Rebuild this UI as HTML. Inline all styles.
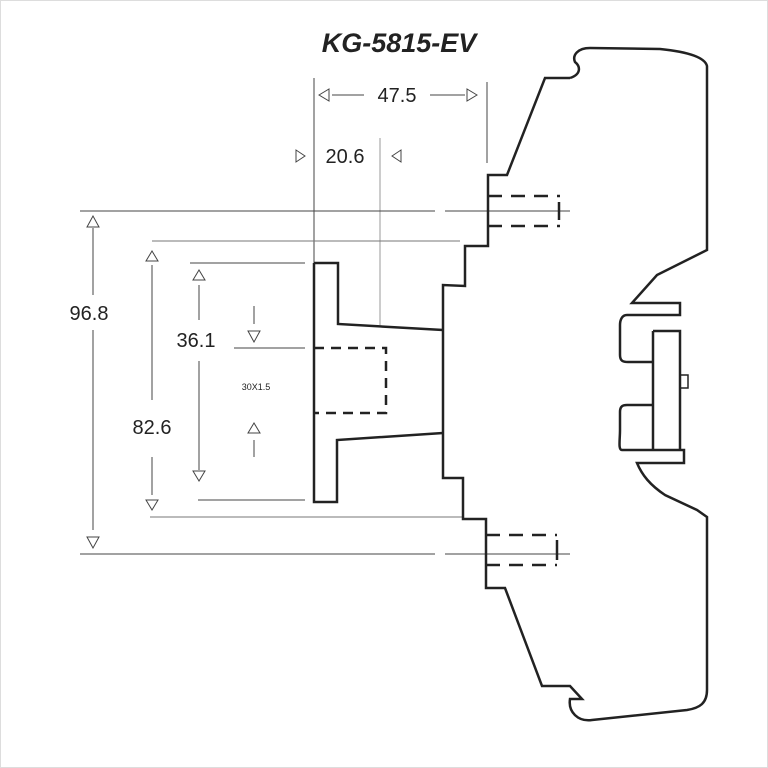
<!DOCTYPE html>
<html><head><meta charset="utf-8"><style>
html,body{margin:0;padding:0;background:#fff}
svg{display:block}
text{font-family:"Liberation Sans",sans-serif;fill:#222}
</style></head><body>
<svg width="768" height="768" viewBox="0 0 768 768" xmlns="http://www.w3.org/2000/svg">
<rect x="0.5" y="0.5" width="767" height="767" fill="#fff" stroke="#ddd"/>
<text x="399" y="52" font-size="27" font-weight="bold" font-style="italic" text-anchor="middle" fill="#333">KG-5815-EV</text>

<g stroke="#444" stroke-width="1" fill="none">
<line x1="314" y1="78" x2="314" y2="263"/>
<line x1="487" y1="82" x2="487" y2="163"/>
<line x1="380" y1="138" x2="380" y2="325" stroke="#999"/>
<line x1="332" y1="95" x2="364" y2="95"/>
<line x1="430" y1="95" x2="465" y2="95"/>
<polygon points="319,95 329,89 329,101"/>
<polygon points="477,95 467,89 467,101"/>
<polygon points="305,156 296,150 296,162"/>
<polygon points="392,156 401,150 401,162"/>
<line x1="80" y1="211" x2="435" y2="211"/>
<line x1="445" y1="211" x2="570" y2="211"/>
<line x1="80" y1="554" x2="435" y2="554"/>
<line x1="445" y1="554" x2="570" y2="554"/>
<line x1="152" y1="241" x2="460" y2="241" stroke="#777"/>
<line x1="150" y1="517" x2="463" y2="517" stroke="#777"/>
<line x1="190" y1="263" x2="305" y2="263"/>
<line x1="198" y1="500" x2="305" y2="500"/>
<line x1="234" y1="348" x2="305" y2="348"/>
<line x1="93" y1="228" x2="93" y2="295"/>
<line x1="93" y1="330" x2="93" y2="530"/>
<polygon points="93,216 87,227 99,227"/>
<polygon points="93,548 87,537 99,537"/>
<line x1="152" y1="265" x2="152" y2="400"/>
<line x1="152" y1="457" x2="152" y2="495"/>
<polygon points="152,251 146,261 158,261"/>
<polygon points="152,510 146,500 158,500"/>
<line x1="199" y1="285" x2="199" y2="320"/>
<line x1="199" y1="361" x2="199" y2="470"/>
<polygon points="199,270 193,280 205,280"/>
<polygon points="199,481 193,471 205,471"/>
<line x1="254" y1="306" x2="254" y2="324"/>
<polygon points="254,342 248,331 260,331"/>
<line x1="254" y1="440" x2="254" y2="457"/>
<polygon points="254,423 248,433 260,433"/>
</g>

<text x="397" y="102" font-size="20" text-anchor="middle">47.5</text>
<text x="345" y="163" font-size="20" text-anchor="middle">20.6</text>
<text x="89" y="320" font-size="20" text-anchor="middle">96.8</text>
<text x="196" y="347" font-size="20" text-anchor="middle">36.1</text>
<text x="152" y="434" font-size="20" text-anchor="middle">82.6</text>
<text x="256" y="390" font-size="9" text-anchor="middle" fill="#aaa">30X1.5</text>

<g stroke="#222" stroke-width="2.5" fill="none" stroke-linejoin="miter">
<path d="M314,263 H338 V324 L443,330 M443,433 L337,440 V502 H314 V263"/>
<path d="M314,348 H386 V413 H314" stroke-dasharray="10,7"/>
<path d="M570,78 H545 L507,175 H488 V246 H465 V286 L443,285 V478 H463 V519 H486 V588 H505 L542,686 H570 L582,699 H570 C568,712 578,722 592,720 L687,710 C700,708 707,703 707,690 L707,517 L697,510 L665,495 C650,485 642,475 637,463 H684 V450 H622 C618,450 620,440 620,430 V412 C620,406 623,405 627,405 H653"/>
<path d="M570,78 C582,74 580,66 575,62 C572,55 578,48 590,48 L660,49 C690,52 705,58 707,66 V250 L657,275 L632,303 H680 V315 H627 C622,315 620,320 620,325 V355 C620,361 623,362 628,362 H653"/>
<path d="M653,331 H680 V450 M653,331 V450"/>
<rect x="680" y="375" width="8" height="13" stroke-width="1.5"/>
<path d="M488,196 H560 M488,226 H560" stroke-dasharray="14,9"/>
<path d="M559,202 V220"/>
<path d="M486,535 H557 M486,565 H557" stroke-dasharray="14,9"/>
<path d="M557,540 V560"/>
</g>
</svg>
</body></html>
